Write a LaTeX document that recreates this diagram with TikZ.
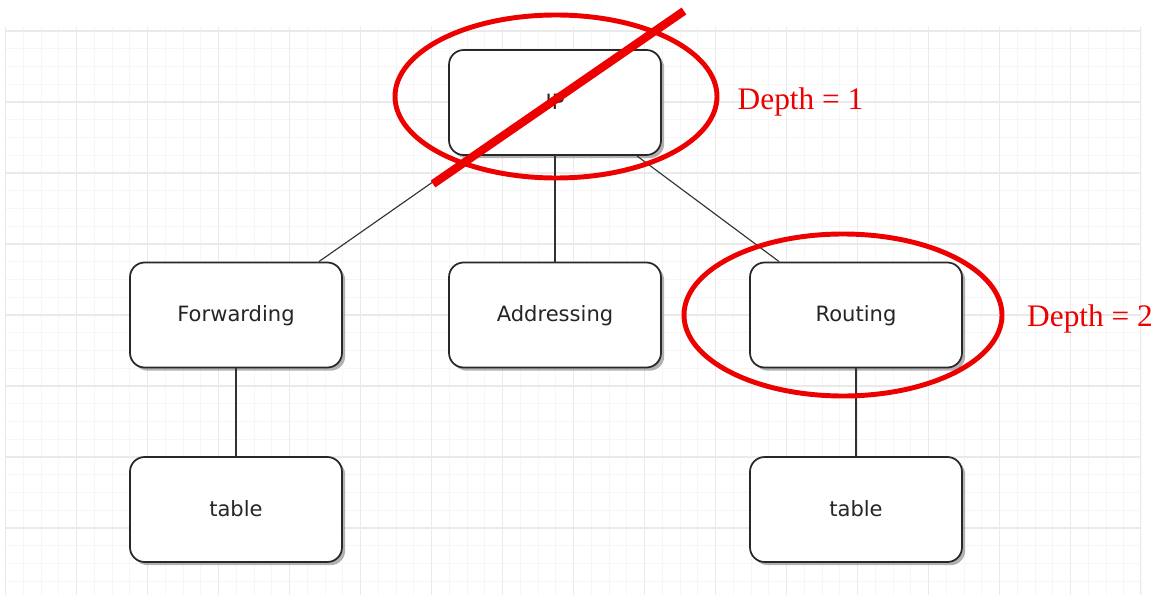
\documentclass[tikz,border=0pt]{standalone}
\usepackage{fontspec}
\setmainfont{Liberation Serif}
\newfontfamily\boxfont{DejaVu Sans}
\usetikzlibrary{calc,shadows}
\definecolor{gridmajor}{RGB}{234,234,234}
\definecolor{gridminor}{RGB}{246,246,246}
\definecolor{boxline}{RGB}{40,40,40}
\definecolor{linkline}{RGB}{50,50,50}
\definecolor{mark}{RGB}{236,0,0}
\tikzset{
  treebox/.style={draw=boxline, line width=1.3pt, fill=white, rounded corners=11pt,
    minimum width=159pt, minimum height=78.75pt, inner sep=0pt,
    text height=11.5pt, text depth=1.5pt,
    font=\boxfont\fontsize{15.8pt}{18pt}\selectfont, text=black!85,
    drop shadow={shadow xshift=2.4pt, shadow yshift=-2.4pt, fill=black!50, opacity=0.6}},
  link/.style={draw=linkline, line width=0.85pt},
  ring/.style={draw=mark, line width=3.7pt},
  slash/.style={draw=mark, line width=6.2pt},
  depthlabel/.style={text=mark, font=\fontsize{23.5pt}{28pt}\selectfont, inner sep=0pt},
}
\begin{document}
\begin{tikzpicture}[x=0.75pt,y=-0.75pt]
  \useasboundingbox (0,0) rectangle (1163,595);
  \fill[white] (0,0) rectangle (1163,595);
  % background grid: minor every 17.75 px, major every 71 px
  \begin{scope}
    \clip (5,27) rectangle (1141,595);
    \foreach \j in {0,...,64} {
      \draw[gridminor, line width=0.75pt] ({5.5+17.75*\j},27) -- ({5.5+17.75*\j},595);
    }
    \foreach \j in {0,...,32} {
      \draw[gridminor, line width=0.75pt] (5,{31+17.75*\j}) -- (1141,{31+17.75*\j});
    }
    \foreach \k in {0,...,16} {
      \draw[gridmajor, line width=0.9pt] ({5.5+71*\k},27) -- ({5.5+71*\k},595);
    }
    \foreach \k in {0,...,8} {
      \draw[gridmajor, line width=0.9pt] (5,{31+71*\k}) -- (1141,{31+71*\k});
    }
  \end{scope}
  \draw[gridmajor, line width=0.9pt] (1140.5,27) -- (1140.5,595);

  % tree nodes
  \node[treebox] (ip)    at (555,102.5) {IP};
  \node[treebox] (fwd)   at (236,315)   {Forwarding};
  \node[treebox] (addr)  at (555,315)   {Addressing};
  \node[treebox] (route) at (856,315)   {Routing};
  \node[treebox] (ftab)  at (236,509.5) {table};
  \node[treebox] (rtab)  at (856,509.5) {table};

  % tree edges
  \draw[link] ($(ip.south west)+(22,0)$) -- ($(fwd.north east)+(-24,0)$);
  \draw[link] (ip.south) -- (addr.north);
  \draw[link] ($(ip.south east)+(-25,0)$) -- ($(route.north west)+(30,0)$);
  \draw[link] (fwd.south) -- (ftab.north);
  \draw[link] (route.south) -- (rtab.north);

  % annotations
  \draw[ring] (ip.center) ++(1,-6) ellipse [x radius=161, y radius=81.5];
  \coordinate (slashA) at (433,184);
  \coordinate (slashB) at (684,11);
  \draw[slash] (slashA) -- (slashB);
  \node[depthlabel] (d1) at (800.5,102) {Depth = 1};
  \draw[ring] (route.center) ++(-13,0) ellipse [x radius=159, y radius=81];
  \node[depthlabel] (d2) at (1090,319) {Depth = 2};
\end{tikzpicture}
\end{document}
